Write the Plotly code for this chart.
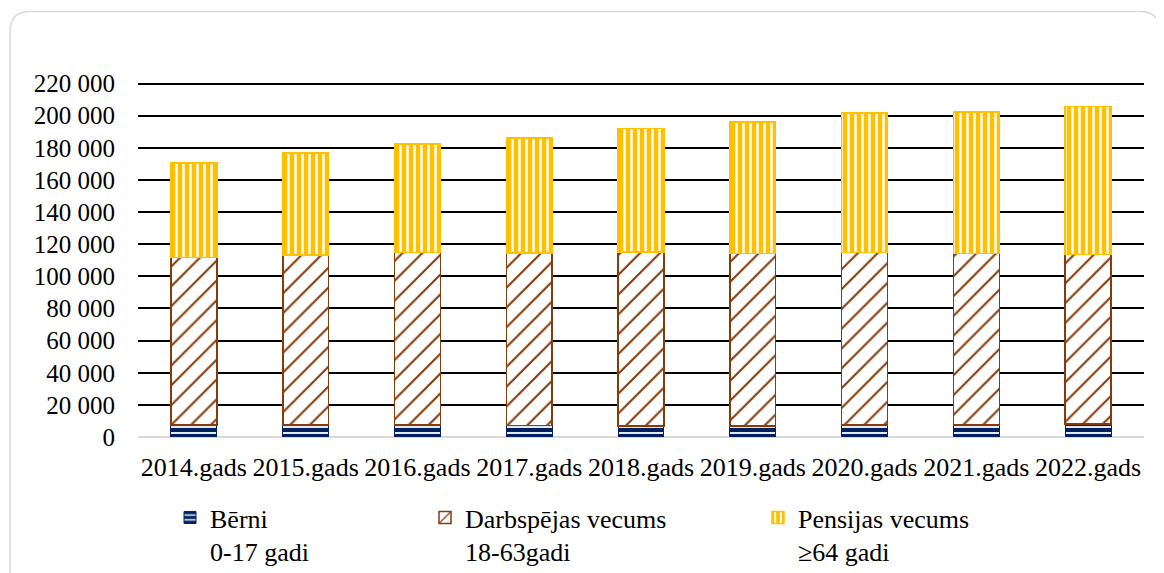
import plotly.graph_objects as go

years = ["2014.gads", "2015.gads", "2016.gads", "2017.gads", "2018.gads",
         "2019.gads", "2020.gads", "2021.gads", "2022.gads"]
children = [7500, 7500, 7400, 7300, 7000, 6700, 7500, 7500, 8200]
working = [104200, 105800, 107400, 107100, 108200, 107500, 107300, 106700, 105550]
pension = [58900, 63600, 67500, 71600, 76700, 82050, 86900, 88100, 92050]

names = ["Bērni<br>0-17 gadi", "Darbspējas vecums<br>18-63gadi", "Pensijas vecums<br>≥64 gadi"]
y_ticks = list(range(0, 220001, 20000))
y_max = 221000

# the page body adds an 8px margin, so work in window pixels minus OFF
OFF = 8
WIN_W, WIN_H = 1164, 573
W, H = WIN_W - OFF, WIN_H - OFF
L_WIN, R_WIN = 138, 1144          # window px of plot left/right
ZERO_WIN, TOP_WIN = 437, 84       # window px rows of 0 and 220 000
L = L_WIN - OFF
R = W - (R_WIN - OFF)
ZERO_Y = ZERO_WIN - OFF
ph = (ZERO_WIN - TOP_WIN) * y_max / 220000
T = ZERO_Y - ph
B = H - ZERO_Y
FONT = "Liberation Serif, Times New Roman, serif"

fig = go.Figure()
fig.add_trace(go.Bar(
    x=years, y=children, name=names[0], legend="legend",
    marker=dict(color="#002060", line=dict(color="#002060", width=1),
                pattern=dict(shape="-", fgcolor="white", bgcolor="#002060",
                             size=6, solidity=0.3, fillmode="replace")),
))
fig.add_trace(go.Bar(
    x=years, y=working, name=names[1], legend="legend2",
    marker=dict(color="white", line=dict(color="#843C0C", width=1.5),
                pattern=dict(shape="/", fgcolor="#843C0C", bgcolor="white",
                             size=14, solidity=0.15, fillmode="replace")),
))
fig.add_trace(go.Bar(
    x=years, y=pension, name=names[2], legend="legend3",
    marker=dict(color="#FFC000", line=dict(color="#FFC000", width=1.5),
                pattern=dict(shape="|", fgcolor="white", bgcolor="#FFC000",
                             size=7, solidity=0.35, fillmode="replace")),
))

pw = W - L - R


def px(x_win):
    return (x_win - OFF - L) / pw


def py(y_win):
    return (ZERO_Y - (y_win - OFF)) / ph


x0, x1, y0, y1, r = 10, 1160, 12, 590, 20
path = (f"M{px(x0)},{py(y1)} L{px(x0)},{py(y0 + r)} Q{px(x0)},{py(y0)} {px(x0 + r)},{py(y0)} "
        f"L{px(x1 - r)},{py(y0)} Q{px(x1)},{py(y0)} {px(x1)},{py(y0 + r)} L{px(x1)},{py(y1)}")
fig.add_shape(type="path", xref="paper", yref="paper", path=path,
              line=dict(color="#d9d9d9", width=1.5), layer="below")

leg_common = dict(orientation="h", yanchor="top", xanchor="left", valign="top",
                  font=dict(family=FONT, size=26, color="black"),
                  bgcolor="rgba(0,0,0,0)", itemwidth=30, tracegroupgap=0)
leg_top = 494
fig.update_layout(
    width=W, height=H,
    margin=dict(l=L, r=R, t=T, b=B, autoexpand=False),
    paper_bgcolor="white", plot_bgcolor="white",
    barmode="stack", bargap=0.59,
    separators=", ",
    showlegend=True,
    font=dict(family=FONT, size=25, color="black"),
    legend=dict(x=px(170), y=py(leg_top), **leg_common),
    legend2=dict(x=px(425), y=py(leg_top), **leg_common),
    legend3=dict(x=px(758), y=py(leg_top), **leg_common),
    xaxis=dict(showgrid=False, showline=False, ticks="",
               tickfont=dict(family=FONT, size=26, color="black"),
               ticklabelstandoff=12, tickangle=0),
    yaxis=dict(range=[0, y_max], tickvals=y_ticks, tickformat=",d",
               showgrid=True, gridcolor="black", gridwidth=1.5,
               zeroline=True, zerolinecolor="#d9d9d9", zerolinewidth=1.5,
               showline=False, ticks="",
               tickfont=dict(family=FONT, size=25, color="black"),
               ticklabelstandoff=22),
)

fig.write_html("out.html")
